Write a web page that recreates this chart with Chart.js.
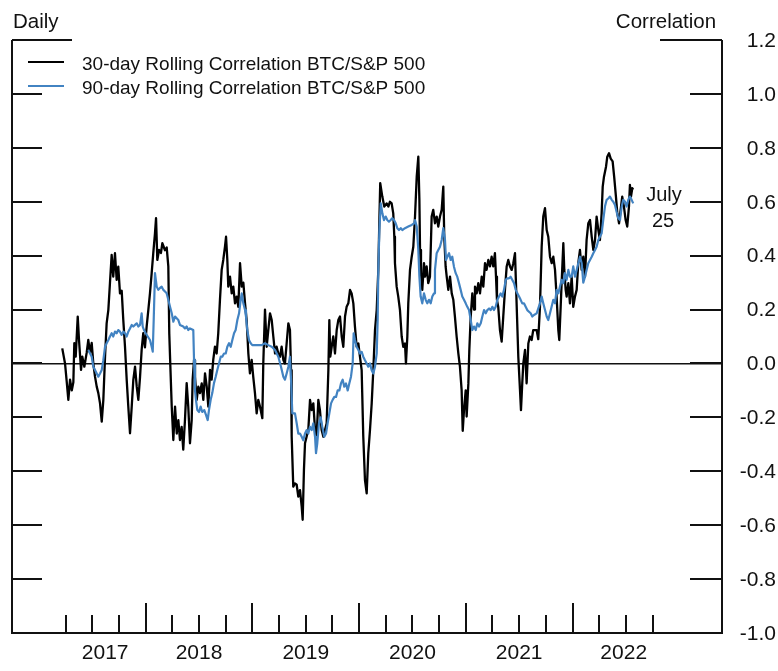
<!DOCTYPE html>
<html>
<head>
<meta charset="utf-8">
<title>BTC / S&amp;P 500 rolling correlation</title>
<script src="https://cdn.jsdelivr.net/npm/chart.js@4.4.1/dist/chart.umd.min.js"></script>
<style>
  html, body { margin: 0; padding: 0; background: #fff; }
  #chart { display: block; }
</style>
</head>
<body>
<canvas id="chart" width="778" height="671"></canvas>
<script>
'use strict';

/* ── Data (decimal years, correlation) ── */
const SERIES_LABELS = ['30-day Rolling Correlation BTC/S&P 500', '90-day Rolling Correlation BTC/S&P 500'];

const btc30Dates = [
  2017.218, 2017.244, 2017.260, 2017.275, 2017.291, 2017.307, 2017.322, 2017.331, 2017.344, 2017.363,
  2017.375, 2017.394, 2017.406, 2017.425, 2017.447, 2017.462, 2017.478, 2017.494, 2017.509, 2017.525,
  2017.541, 2017.556, 2017.572, 2017.588, 2017.603, 2017.619, 2017.634, 2017.650, 2017.665, 2017.681,
  2017.696, 2017.712, 2017.728, 2017.743, 2017.759, 2017.775, 2017.790, 2017.806, 2017.822, 2017.837,
  2017.853, 2017.869, 2017.884, 2017.900, 2017.916, 2017.931, 2017.947, 2017.962, 2017.977, 2017.993,
  2018.009, 2018.025, 2018.040, 2018.056, 2018.071, 2018.087, 2018.097, 2018.109, 2018.125, 2018.143,
  2018.156, 2018.181, 2018.197, 2018.212, 2018.221, 2018.231, 2018.244, 2018.259, 2018.275, 2018.291,
  2018.306, 2018.321, 2018.337, 2018.352, 2018.368, 2018.384, 2018.399, 2018.415, 2018.431, 2018.440,
  2018.453, 2018.462, 2018.478, 2018.493, 2018.509, 2018.525, 2018.540, 2018.556, 2018.572, 2018.587,
  2018.603, 2018.618, 2018.633, 2018.649, 2018.665, 2018.680, 2018.696, 2018.712, 2018.727, 2018.743,
  2018.753, 2018.765, 2018.774, 2018.790, 2018.806, 2018.821, 2018.837, 2018.853, 2018.868, 2018.884,
  2018.900, 2018.915, 2018.931, 2018.946, 2018.962, 2018.977, 2018.993, 2019.008, 2019.024, 2019.040,
  2019.055, 2019.071, 2019.093, 2019.102, 2019.118, 2019.134, 2019.149, 2019.165, 2019.181, 2019.196,
  2019.212, 2019.227, 2019.243, 2019.259, 2019.274, 2019.290, 2019.305, 2019.321, 2019.337, 2019.352,
  2019.362, 2019.368, 2019.383, 2019.399, 2019.415, 2019.430, 2019.446, 2019.462, 2019.471, 2019.483,
  2019.493, 2019.509, 2019.524, 2019.540, 2019.556, 2019.571, 2019.587, 2019.602, 2019.618, 2019.633,
  2019.649, 2019.665, 2019.680, 2019.696, 2019.712, 2019.721, 2019.730, 2019.743, 2019.758, 2019.774,
  2019.790, 2019.805, 2019.821, 2019.837, 2019.852, 2019.868, 2019.883, 2019.899, 2019.915, 2019.930,
  2019.946, 2019.961, 2019.977, 2019.993, 2020.008, 2020.024, 2020.039, 2020.055, 2020.071, 2020.086,
  2020.102, 2020.118, 2020.133, 2020.149, 2020.165, 2020.180, 2020.190, 2020.198, 2020.217, 2020.236,
  2020.258, 2020.274, 2020.289, 2020.305, 2020.320, 2020.330, 2020.336, 2020.352, 2020.367, 2020.383,
  2020.399, 2020.414, 2020.430, 2020.439, 2020.452, 2020.461, 2020.477, 2020.493, 2020.508, 2020.524,
  2020.540, 2020.555, 2020.565, 2020.571, 2020.580, 2020.592, 2020.608, 2020.618, 2020.633, 2020.648,
  2020.664, 2020.680, 2020.695, 2020.711, 2020.727, 2020.742, 2020.758, 2020.774, 2020.789, 2020.798,
  2020.811, 2020.821, 2020.836, 2020.852, 2020.868, 2020.883, 2020.898, 2020.914, 2020.930, 2020.945,
  2020.961, 2020.971, 2020.983, 2020.999, 2021.008, 2021.024, 2021.033, 2021.046, 2021.061, 2021.077,
  2021.086, 2021.102, 2021.117, 2021.133, 2021.149, 2021.164, 2021.180, 2021.195, 2021.211, 2021.227,
  2021.242, 2021.257, 2021.273, 2021.283, 2021.292, 2021.304, 2021.320, 2021.336, 2021.351, 2021.367,
  2021.383, 2021.398, 2021.414, 2021.430, 2021.445, 2021.461, 2021.470, 2021.480, 2021.492, 2021.508,
  2021.517, 2021.529, 2021.539, 2021.555, 2021.570, 2021.586, 2021.601, 2021.617, 2021.632, 2021.664,
  2021.679, 2021.695, 2021.711, 2021.726, 2021.742, 2021.758, 2021.773, 2021.789, 2021.805, 2021.820,
  2021.836, 2021.851, 2021.867, 2021.876, 2021.889, 2021.898, 2021.914, 2021.923, 2021.936, 2021.945,
  2021.961, 2021.976, 2021.992, 2022.007, 2022.023, 2022.039, 2022.054, 2022.070, 2022.086, 2022.101,
  2022.117, 2022.132, 2022.148, 2022.164, 2022.180, 2022.195, 2022.211, 2022.226, 2022.242, 2022.257,
  2022.273, 2022.283, 2022.295, 2022.314, 2022.326, 2022.342, 2022.358, 2022.376, 2022.391, 2022.407,
  2022.420, 2022.436, 2022.451, 2022.466, 2022.482, 2022.498, 2022.513, 2022.529, 2022.538, 2022.548,
  2022.560, 2022.569
];

const btc30Values = [
  0.056, 0.0, -0.068, -0.135, -0.06, -0.1, -0.07, 0.075, 0.025, 0.174,
  0.087, -0.024, 0.025, -0.012, 0.04, 0.087, 0.04, 0.076, 0.0, -0.049,
  -0.086, -0.11, -0.148, -0.216, -0.135, 0.025, 0.149, 0.199, 0.298, 0.403,
  0.322, 0.409, 0.31, 0.359, 0.26, 0.27, 0.161, 0.062, -0.061, -0.16,
  -0.259, -0.16, -0.061, -0.012, -0.086, -0.135, -0.05, 0.05, 0.112, 0.06,
  0.137, 0.2, 0.26, 0.335, 0.409, 0.483, 0.539, 0.384, 0.421, 0.41,
  0.446, 0.42, 0.43, 0.36, 0.11, -0.01, -0.16, -0.284, -0.16, -0.26,
  -0.21, -0.284, -0.235, -0.32, -0.21, -0.073, -0.16, -0.296, -0.21, -0.06,
  0.013, -0.05, -0.135, -0.086, -0.11, -0.074, -0.135, -0.037, -0.086, -0.16,
  -0.024, -0.06, 0.013, 0.062, 0.037, 0.112, 0.236, 0.347, 0.384, 0.433,
  0.47, 0.384, 0.285, 0.322, 0.26, 0.285, 0.223, 0.248, 0.21, 0.372,
  0.285, 0.3, 0.223, 0.161, 0.037, -0.037, 0.013, -0.05, -0.11, -0.185,
  -0.135, -0.16, -0.203, 0.0, 0.2, 0.062, 0.124, 0.186, 0.161, 0.1,
  0.037, 0.062, 0.037, 0.025, 0.062, 0.013, 0.0, 0.075, 0.149, 0.124,
  -0.025, -0.27, -0.457, -0.445, -0.45, -0.494, -0.47, -0.531, -0.58, -0.395,
  -0.296, -0.27, -0.247, -0.135, -0.173, -0.148, -0.247, -0.272, -0.135, -0.173,
  -0.247, -0.272, -0.247, -0.222, -0.024, 0.161, 0.025, 0.062, 0.1, 0.037,
  0.124, 0.161, 0.174, 0.1, 0.062, 0.174, 0.21, 0.223, 0.273, 0.26,
  0.223, 0.137, 0.062, 0.074, 0.025, -0.025, -0.27, -0.433, -0.482, -0.333,
  -0.247, -0.148, -0.025, 0.124, 0.198, 0.347, 0.532, 0.669, 0.62, 0.582,
  0.594, 0.582, 0.6, 0.594, 0.557, 0.47, 0.372, 0.285, 0.248, 0.198,
  0.1, 0.062, 0.074, 0.0, 0.1, 0.223, 0.347, 0.396, 0.433, 0.545,
  0.693, 0.767, 0.607, 0.421, 0.335, 0.273, 0.372, 0.322, 0.36, 0.298,
  0.322, 0.545, 0.57, 0.52, 0.545, 0.508, 0.545, 0.57, 0.656, 0.47,
  0.359, 0.322, 0.273, 0.322, 0.26, 0.236, 0.174, 0.1, 0.037, -0.012,
  -0.1, -0.25, -0.173, -0.1, -0.197, -0.074, 0.05, 0.174, 0.26, 0.2,
  0.285, 0.26, 0.298, 0.26, 0.322, 0.285, 0.372, 0.347, 0.384, 0.36,
  0.396, 0.36, 0.409, 0.322, 0.236, 0.21, 0.124, 0.081, 0.174, 0.273,
  0.36, 0.384, 0.36, 0.347, 0.372, 0.409, 0.298, 0.174, 0.025, -0.1,
  -0.173, -0.074, 0.0, 0.05, -0.074, 0.074, 0.1, 0.087, 0.124, 0.124,
  0.09, 0.21, 0.433, 0.545, 0.576, 0.495, 0.47, 0.396, 0.372, 0.396,
  0.347, 0.248, 0.124, 0.087, 0.21, 0.298, 0.446, 0.347, 0.273, 0.248,
  0.298, 0.223, 0.322, 0.21, 0.248, 0.273, 0.372, 0.421, 0.347, 0.396,
  0.322, 0.458, 0.52, 0.532, 0.47, 0.421, 0.458, 0.545, 0.495, 0.458,
  0.557, 0.656, 0.693, 0.73, 0.767, 0.78, 0.76, 0.75, 0.69, 0.619,
  0.557, 0.52, 0.57, 0.619, 0.582, 0.532, 0.508, 0.582, 0.662, 0.619,
  0.65, 0.645
];

const btc90Dates = [
  2017.462, 2017.494, 2017.509, 2017.525, 2017.541, 2017.556, 2017.572, 2017.588, 2017.603, 2017.619,
  2017.634, 2017.650, 2017.665, 2017.681, 2017.696, 2017.712, 2017.728, 2017.743, 2017.759, 2017.775,
  2017.790, 2017.806, 2017.822, 2017.837, 2017.853, 2017.869, 2017.884, 2017.900, 2017.916, 2017.931,
  2017.947, 2017.962, 2017.972, 2017.984, 2018.000, 2018.019, 2018.040, 2018.056, 2018.066, 2018.075,
  2018.087, 2018.103, 2018.118, 2018.134, 2018.150, 2018.165, 2018.181, 2018.197, 2018.212, 2018.228,
  2018.244, 2018.259, 2018.275, 2018.306, 2018.321, 2018.352, 2018.368, 2018.384, 2018.399, 2018.415,
  2018.446, 2018.453, 2018.462, 2018.471, 2018.484, 2018.500, 2018.515, 2018.530, 2018.549, 2018.565,
  2018.581, 2018.593, 2018.609, 2018.624, 2018.640, 2018.656, 2018.671, 2018.687, 2018.703, 2018.718,
  2018.734, 2018.750, 2018.765, 2018.781, 2018.797, 2018.812, 2018.828, 2018.843, 2018.859, 2018.875,
  2018.890, 2018.900, 2018.915, 2018.931, 2018.940, 2018.952, 2018.968, 2018.984, 2018.999, 2019.024,
  2019.055, 2019.087, 2019.118, 2019.149, 2019.181, 2019.212, 2019.243, 2019.268, 2019.290, 2019.305,
  2019.321, 2019.337, 2019.352, 2019.362, 2019.374, 2019.399, 2019.415, 2019.430, 2019.446, 2019.462,
  2019.477, 2019.493, 2019.509, 2019.524, 2019.540, 2019.556, 2019.571, 2019.587, 2019.596, 2019.608,
  2019.624, 2019.640, 2019.655, 2019.674, 2019.690, 2019.705, 2019.721, 2019.737, 2019.752, 2019.768,
  2019.784, 2019.799, 2019.815, 2019.830, 2019.846, 2019.861, 2019.877, 2019.893, 2019.908, 2019.924,
  2019.940, 2019.949, 2019.961, 2019.977, 2019.993, 2020.008, 2020.024, 2020.039, 2020.055, 2020.071,
  2020.086, 2020.102, 2020.118, 2020.133, 2020.149, 2020.165, 2020.174, 2020.180, 2020.190, 2020.203,
  2020.218, 2020.233, 2020.249, 2020.264, 2020.280, 2020.296, 2020.311, 2020.327, 2020.343, 2020.358,
  2020.374, 2020.390, 2020.405, 2020.430, 2020.461, 2020.493, 2020.517, 2020.524, 2020.540, 2020.555,
  2020.565, 2020.577, 2020.592, 2020.608, 2020.624, 2020.639, 2020.655, 2020.671, 2020.686, 2020.702,
  2020.711, 2020.727, 2020.742, 2020.758, 2020.774, 2020.789, 2020.805, 2020.814, 2020.827, 2020.843,
  2020.858, 2020.873, 2020.889, 2020.905, 2020.920, 2020.936, 2020.952, 2020.967, 2020.983, 2020.999,
  2021.014, 2021.030, 2021.046, 2021.061, 2021.077, 2021.093, 2021.108, 2021.124, 2021.140, 2021.155,
  2021.171, 2021.187, 2021.202, 2021.218, 2021.234, 2021.249, 2021.264, 2021.280, 2021.296, 2021.311,
  2021.327, 2021.342, 2021.358, 2021.374, 2021.389, 2021.405, 2021.420, 2021.436, 2021.452, 2021.468,
  2021.483, 2021.499, 2021.514, 2021.529, 2021.545, 2021.561, 2021.576, 2021.592, 2021.608, 2021.623,
  2021.639, 2021.664, 2021.695, 2021.711, 2021.726, 2021.758, 2021.773, 2021.789, 2021.820, 2021.836,
  2021.851, 2021.867, 2021.882, 2021.898, 2021.914, 2021.929, 2021.945, 2021.961, 2021.976, 2021.992,
  2022.007, 2022.023, 2022.039, 2022.054, 2022.070, 2022.086, 2022.101, 2022.117, 2022.132, 2022.148,
  2022.164, 2022.180, 2022.195, 2022.211, 2022.226, 2022.242, 2022.257, 2022.273, 2022.288, 2022.304,
  2022.320, 2022.335, 2022.351, 2022.367, 2022.382, 2022.398, 2022.413, 2022.429, 2022.445, 2022.461,
  2022.476, 2022.492, 2022.507, 2022.523, 2022.538, 2022.554, 2022.569
];

const btc90Values = [
  0.05, 0.025, -0.012, -0.024, -0.037, -0.049, -0.037, -0.024, 0.012, 0.062,
  0.075, 0.087, 0.1, 0.112, 0.1, 0.118, 0.112, 0.124, 0.118, 0.106,
  0.118, 0.112, 0.1, 0.118, 0.13, 0.143, 0.137, 0.143, 0.149, 0.137,
  0.143, 0.186, 0.137, 0.124, 0.112, 0.1, 0.087, 0.062, 0.044, 0.161,
  0.335, 0.285, 0.273, 0.28, 0.285, 0.273, 0.267, 0.26, 0.236, 0.21,
  0.186, 0.155, 0.174, 0.161, 0.143, 0.137, 0.13, 0.137, 0.124, 0.13,
  0.124, 0.013, -0.1, -0.135, -0.173, -0.18, -0.16, -0.18, -0.173, -0.191,
  -0.21, -0.173, -0.135, -0.11, -0.073, -0.049, -0.024, 0.0, 0.025, 0.025,
  0.037, 0.037, 0.062, 0.075, 0.062, 0.087, 0.112, 0.124, 0.161, 0.186,
  0.236, 0.26, 0.223, 0.198, 0.174, 0.124, 0.087, 0.075, 0.068, 0.068,
  0.068, 0.068, 0.075, 0.068, 0.062, 0.05, 0.025, -0.012, -0.049, -0.06,
  -0.037, -0.012, 0.025, -0.06, -0.185, -0.185, -0.222, -0.26, -0.26, -0.272,
  -0.285, -0.26, -0.247, -0.26, -0.235, -0.247, -0.222, -0.272, -0.333, -0.296,
  -0.222, -0.2, -0.235, -0.272, -0.26, -0.222, -0.185, -0.148, -0.135, -0.124,
  -0.124, -0.1, -0.1, -0.074, -0.06, -0.086, -0.074, -0.1, -0.074, -0.049,
  0.0, 0.112, 0.087, 0.062, 0.05, 0.037, 0.043, 0.025, 0.012, 0.0,
  -0.012, 0.0, -0.025, -0.037, -0.012, 0.037, 0.161, 0.347, 0.495, 0.594,
  0.557, 0.532, 0.545, 0.532, 0.526, 0.532, 0.539, 0.532, 0.52, 0.502,
  0.495, 0.502, 0.495, 0.502, 0.508, 0.514, 0.52, 0.532, 0.508, 0.421,
  0.322, 0.248, 0.223, 0.26, 0.236, 0.223, 0.236, 0.223, 0.248, 0.26,
  0.347, 0.409, 0.421, 0.433, 0.458, 0.502, 0.458, 0.384, 0.396, 0.409,
  0.384, 0.396, 0.359, 0.335, 0.322, 0.298, 0.273, 0.248, 0.236, 0.223,
  0.21, 0.198, 0.161, 0.124, 0.137, 0.124, 0.149, 0.137, 0.149, 0.174,
  0.198, 0.186, 0.198, 0.204, 0.198, 0.21, 0.198, 0.21, 0.236, 0.248,
  0.26, 0.248, 0.273, 0.31, 0.316, 0.316, 0.322, 0.31, 0.298, 0.273,
  0.26, 0.248, 0.236, 0.223, 0.223, 0.21, 0.198, 0.192, 0.186, 0.174,
  0.18, 0.186, 0.223, 0.248, 0.223, 0.174, 0.161, 0.186, 0.236, 0.223,
  0.273, 0.26, 0.285, 0.31, 0.298, 0.335, 0.31, 0.347, 0.322, 0.322,
  0.36, 0.322, 0.347, 0.372, 0.396, 0.372, 0.3, 0.322, 0.347, 0.372,
  0.384, 0.396, 0.409, 0.421, 0.433, 0.458, 0.47, 0.483, 0.532, 0.582,
  0.607, 0.612, 0.619, 0.607, 0.6, 0.588, 0.563, 0.539, 0.532, 0.582,
  0.607, 0.6, 0.582, 0.607, 0.619, 0.607, 0.594
];

/* ── Axes ── */
const Y_TICKS = [1.2, 1.0, 0.8, 0.6, 0.4, 0.2, 0.0, -0.2, -0.4, -0.6, -0.8, -1.0];
const QUARTER_TICKS = [
  2017.25, 2017.5, 2017.75, 2018, 2018.25, 2018.5, 2018.75, 2019, 2019.25, 2019.5, 2019.75,
  2020, 2020.25, 2020.5, 2020.75, 2021, 2021.25, 2021.5, 2021.75, 2022, 2022.25, 2022.5, 2022.75
];
const YEAR_LABELS = ['2017', '2018', '2019', '2020', '2021', '2022'];
const YEAR_LABEL_AT = [2017.62, 2018.5, 2019.5, 2020.5, 2021.5, 2022.48];
const X_MIN = 2016.747, X_MAX = 2023.401;

const LEFT_TITLE = 'Daily';
const RIGHT_TITLE = 'Correlation';
const END_NOTE = ['July', '25'];

const INK = '#111111';
const BLUE = '#4283c2';
const FONT = "'Liberation Sans', Arial, Helvetica, sans-serif";

/* ── Frame, inward ticks, titles, legend ── */
const chartFrame = {
  id: 'chartFrame',
  afterDatasetsDraw(chart) {
    const { ctx, chartArea: area, scales: { x, y } } = chart;
    ctx.save();
    ctx.strokeStyle = INK;
    ctx.lineWidth = 2;
    ctx.beginPath();
    ctx.moveTo(area.left, area.top);
    ctx.lineTo(area.left, area.bottom);
    ctx.lineTo(area.right, area.bottom);
    ctx.lineTo(area.right, area.top);
    Y_TICKS.forEach((v, i) => {
      const py = Math.round(y.getPixelForValue(v));
      ctx.moveTo(area.left, py);
      ctx.lineTo(area.left + (i === 0 ? 60 : 30), py);
      ctx.moveTo(area.right, py);
      ctx.lineTo(area.right - (i === 0 ? 62 : 32), py);
    });
    QUARTER_TICKS.forEach((v) => {
      const px = Math.round(x.getPixelForValue(v));
      ctx.moveTo(px, area.bottom);
      ctx.lineTo(px, area.bottom - (Number.isInteger(v) ? 30 : 18));
    });
    ctx.stroke();

    // headers
    ctx.fillStyle = INK;
    ctx.font = `20.5px ${FONT}`;
    ctx.textBaseline = 'alphabetic';
    ctx.textAlign = 'left';
    ctx.fillText(LEFT_TITLE, 13, 28);
    ctx.textAlign = 'center';
    ctx.fillText(RIGHT_TITLE, 666, 28);

    // end-of-data note
    ctx.font = `20px ${FONT}`;
    ctx.fillText(END_NOTE[0], 664, 201);
    ctx.fillText(END_NOTE[1], 663, 227);

    // legend
    ctx.font = `19px ${FONT}`;
    ctx.textAlign = 'left';
    chart.data.datasets.forEach((ds, i) => {
      const ly = 62 + i * 24;
      ctx.strokeStyle = ds.borderColor;
      ctx.lineWidth = 2;
      ctx.beginPath();
      ctx.moveTo(28, ly);
      ctx.lineTo(64, ly);
      ctx.stroke();
      ctx.fillText(ds.label, 82, ly + 8);
    });
    ctx.restore();
  }
};

const toPoints = (xs, ys) => xs.map((d, i) => ({ x: d, y: ys[i] }));

Chart.defaults.font.family = FONT;
Chart.defaults.color = INK;

new Chart(document.getElementById('chart'), {
  type: 'line',
  data: {
    datasets: [
      {
        label: SERIES_LABELS[0],
        data: toPoints(btc30Dates, btc30Values),
        borderColor: '#000000',
        borderWidth: 2.3,
        order: 2,
      },
      {
        label: SERIES_LABELS[1],
        data: toPoints(btc90Dates, btc90Values),
        borderColor: BLUE,
        borderWidth: 2.2,
        order: 1,
      },
    ],
  },
  options: {
    responsive: false,
    devicePixelRatio: 1,
    animation: false,
    parsing: false,
    layout: { padding: { left: 12, top: 40, right: 2, bottom: 0 } },
    elements: {
      point: { radius: 0 },
      line: { tension: 0, borderJoinStyle: 'round', fill: false },
    },
    plugins: { legend: { display: false }, tooltip: { enabled: false } },
    scales: {
      x: {
        type: 'linear',
        min: X_MIN,
        max: X_MAX,
        grid: { display: false },
        border: { display: false },
        afterBuildTicks: (s) => { s.ticks = YEAR_LABEL_AT.map((v) => ({ value: v })); },
        afterFit: (s) => { s.height = 38; },
        ticks: {
          autoSkip: false,
          maxRotation: 0,
          padding: 0,
          font: { size: 21 },
          color: INK,
          callback: (v, i) => YEAR_LABELS[i],
        },
      },
      y: {
        position: 'right',
        min: -1.0,
        max: 1.2,
        grid: {
          drawTicks: false,
          color: (c) => (c.tick && Math.abs(c.tick.value) < 1e-9 ? INK : 'rgba(0,0,0,0)'),
          lineWidth: 1.6,
        },
        border: { display: false },
        afterBuildTicks: (s) => { s.ticks = Y_TICKS.map((v) => ({ value: v })); },
        afterFit: (s) => { s.width = 54; },
        ticks: {
          autoSkip: false,
          crossAlign: 'far',
          padding: 18,
          labelOffset: 1,
          font: { size: 21 },
          color: INK,
          callback: (v) => v.toFixed(1),
        },
      },
    },
  },
  plugins: [chartFrame],
});
</script>
</body>
</html>
